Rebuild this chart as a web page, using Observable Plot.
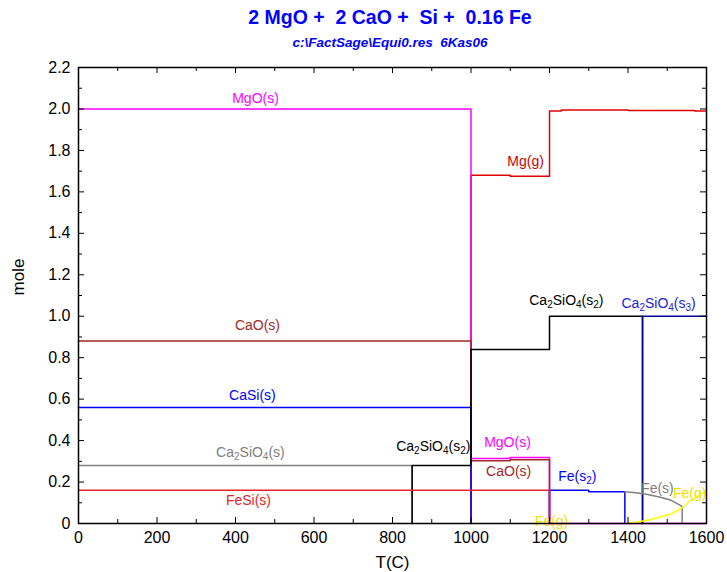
<!DOCTYPE html>
<html>
<head>
<meta charset="utf-8">
<script src="https://cdn.jsdelivr.net/npm/d3@7"></script>
<script src="https://cdn.jsdelivr.net/npm/@observablehq/plot@0.6"></script>
<style>
  body { margin: 0; background: #fff; font-family: "Liberation Sans", Arial, sans-serif; }
  #head { width: 727px; height: 57px; position: relative; }
  #title { position: absolute; left: 53px; right: 0; top: 6px; text-align: center;
           font-weight: bold; font-size: 19.5px; color: #0000ff; white-space: pre; }
  #sub { position: absolute; left: 53px; right: 0; top: 35px; text-align: center;
         font-weight: bold; font-style: italic; font-size: 13.5px; color: #0000ff; white-space: pre; }
</style>
</head>
<body>
<div id="head">
  <div id="title">2 MgO +  2 CaO +  Si +  0.16 Fe</div>
  <div id="sub">c:\FactSage\Equi0.res  6Kas06</div>
</div>
<div id="chart"></div>
<script>
// Equilibrium amounts (mol) versus temperature (°C), one pair of arrays per phase.
const mggT  = [1000, 1000, 1100, 1200, 1230, 1400, 1570, 1600];
const mggN  = [0, 1.68, 1.675, 1.99, 1.995, 1.993, 1.99, 1.99];
const mgoT  = [0, 1000, 1100, 1200, 1600];
const mgoN  = [2.0, 0.313, 0.318, 0, 0];
const caoT  = [0, 1000, 1100, 1200];
const caoN  = [0.88, 0.303, 0.308, 0];
const casiT = [0, 1000];
const casiN = [0.56, 0];
const c2sT  = [0, 850];
const c2sN  = [0.28, 0];
const c2s2T = [850, 850, 1000, 1200, 1437];
const c2s2N = [0, 0.28, 0.84, 1.0, 0];
const c2s3T = [1437, 1437, 1600];
const c2s3N = [0, 1.0, 1.0];
const fes2T = [1200, 1200, 1300, 1392];
const fes2N = [0, 0.16, 0.153, 0];
const fesiT = [0, 1200];
const fesiN = [0.16, 0];
const fesT  = [1392, 1420, 1450, 1480, 1510, 1538, 1538];
const fesN  = [0.153, 0.148, 0.14, 0.128, 0.112, 0.083, 0];
const fegT  = [1392, 1420, 1450, 1480, 1510, 1538, 1560, 1585, 1600];
const fegN  = [0, 0.006, 0.016, 0.03, 0.046, 0.076, 0.112, 0.142, 0.158];

// Phase labels and where they sit (T, mol)
const labelText = ["MgO(s)", "Mg(g)", "CaO(s)", "CaSi(s)", "Ca₂SiO₄(s)", "FeSi(s)",
                   "Ca₂SiO₄(s₂)", "MgO(s)", "CaO(s)", "Fe(s₂)", "Ca₂SiO₄(s₂)",
                   "Ca₂SiO₄(s₃)", "Fe(s)", "Fe(g)", "Fe(g)"];
const labelT = [451, 1139, 456, 443, 438, 433, 904, 1093, 1096, 1271, 1243, 1478, 1475, 1557, 1205];
const labelN = [2.051, 1.746, 0.954, 0.616, 0.341, 0.109, 0.37, 0.389, 0.249, 0.225, 1.075, 1.06, 0.171, 0.147, 0.008];
const labelPhase = ["MgO", "Mgg", "CaO", "CaSi", "C2S", "FeSi", "C2S2", "MgO", "CaO", "Fes2", "C2S2", "C2S3", "Fes", "Feg", "Feg"];

// Axis ticks
const xTicks = [0, 200, 400, 600, 800, 1000, 1200, 1400, 1600];
const xMinor = [100, 300, 500, 700, 900, 1100, 1300, 1500];
const yTicks = [0, 0.2, 0.4, 0.6, 0.8, 1.0, 1.2, 1.4, 1.6, 1.8, 2.0, 2.2];
const yMinor = [0.1, 0.3, 0.5, 0.7, 0.9, 1.1, 1.3, 1.5, 1.7, 1.9, 2.1];

const colors = {
  Mgg: "#e00000", MgO: "#ff00ff", CaO: "#a02828", CaSi: "#0000ff", C2S: "#808080",
  C2S2: "#000000", C2S3: "#000099", Fes2: "#0000ff", FeSi: "#e8222a", Fes: "#808080", Feg: "#ffff00"
};
const labelColors = { ...colors, C2S3: "#2222dd", Mgg: "#cc0000", Feg: "#f0e000" };

const zip = (T, N) => T.map((t, i) => ({T: t, n: N[i]}));

// Drawing order decides which vertical transitions show on top
const stepSeries = [
  ["Mgg", mggT, mggN], ["MgO", mgoT, mgoN], ["CaO", caoT, caoN], ["CaSi", casiT, casiN],
  ["C2S", c2sT, c2sN], ["C2S2", c2s2T, c2s2N], ["Fes2", fes2T, fes2N], ["FeSi", fesiT, fesiN],
  ["C2S3", c2s3T, c2s3N]
];
const curveSeries = [["Fes", fesT, fesN], ["Feg", fegT, fegN]];

const W = 727, H = 515, mT = 10, mB = 49, mL = 78, mR = 21;
const innerW = W - mL - mR, innerH = H - mT - mB;

const labels = labelText.map((s, i) => ({s, T: labelT[i], n: labelN[i], c: labelColors[labelPhase[i]]}));
const rightFeg = labels.filter((d, i) => i === 13);
const otherLabels = labels.filter((d, i) => i !== 13);

const chart = Plot.plot({
  width: W, height: H,
  marginTop: mT, marginBottom: mB, marginLeft: mL, marginRight: mR,
  style: {fontFamily: "'Liberation Sans', Arial, sans-serif", fontSize: "16px", background: "#fff"},
  x: {domain: [0, 1600], label: null},
  y: {domain: [0, 2.2], label: null},
  marks: [
    ...stepSeries.map(([k, T, N]) =>
      Plot.line(zip(T, N), {x: "T", y: "n", curve: "step-after", stroke: colors[k], strokeWidth: 1.5})),
    ...curveSeries.map(([k, T, N]) =>
      Plot.line(zip(T, N), {x: "T", y: "n", curve: "linear", stroke: colors[k], strokeWidth: 1.5})),
    Plot.text(otherLabels, {x: "T", y: "n", text: "s", fill: "c", fontSize: 14}),
    Plot.text(rightFeg, {x: "T", y: "n", text: "s", fill: "c", fontSize: 14, clip: true}),
    Plot.frame({stroke: "black", strokeWidth: 1.5}),
    // inward ticks on all four sides
    Plot.tickX(xTicks, {x: d => d, insetTop: innerH - 6, stroke: "black"}),
    Plot.tickX(xMinor, {x: d => d, insetTop: innerH - 4, stroke: "black"}),
    Plot.tickX(xTicks, {x: d => d, insetBottom: innerH - 6, stroke: "black"}),
    Plot.tickX(xMinor, {x: d => d, insetBottom: innerH - 4, stroke: "black"}),
    Plot.tickY(yTicks, {y: d => d, insetRight: innerW - 6, stroke: "black"}),
    Plot.tickY(yMinor, {y: d => d, insetRight: innerW - 4, stroke: "black"}),
    Plot.tickY(yTicks, {y: d => d, insetLeft: innerW - 6, stroke: "black"}),
    Plot.tickY(yMinor, {y: d => d, insetLeft: innerW - 4, stroke: "black"}),
    Plot.axisX({ticks: xTicks, tickSize: 0, tickPadding: 8, fontSize: 16, tickFormat: d => String(d), label: null}),
    Plot.axisY({ticks: yTicks, tickSize: 0, tickPadding: 8, fontSize: 16,
                tickFormat: d => d === 0 ? "0" : d.toFixed(1), label: null}),
    Plot.text(["T(C)"], {frameAnchor: "bottom", dy: 44, fontSize: 17, fill: "black"}),
    Plot.text(["mole"], {frameAnchor: "left", dx: -60, rotate: -90, fontSize: 17, fill: "black"})
  ]
});

// Typeset subscript digits (₀–₉) as smaller, lowered tspans
const SUB = "₀₁₂₃₄₅₆₇₈₉";
d3.select(chart).selectAll("text").each(function () {
  const s = this.textContent;
  if (![...s].some(ch => SUB.includes(ch))) return;
  const el = d3.select(this);
  el.text(null);
  const runs = [];
  for (const ch of s) {
    const sub = SUB.includes(ch);
    const c = sub ? String(SUB.indexOf(ch)) : ch;
    if (runs.length && runs[runs.length - 1].sub === sub) runs[runs.length - 1].t += c;
    else runs.push({sub, t: c});
  }
  for (const r of runs) {
    const t = el.append("tspan").text(r.t);
    if (r.sub) t.attr("font-size", "10px").attr("baseline-shift", "-3px");
  }
});

document.getElementById("chart").appendChild(chart);
</script>
</body>
</html>
